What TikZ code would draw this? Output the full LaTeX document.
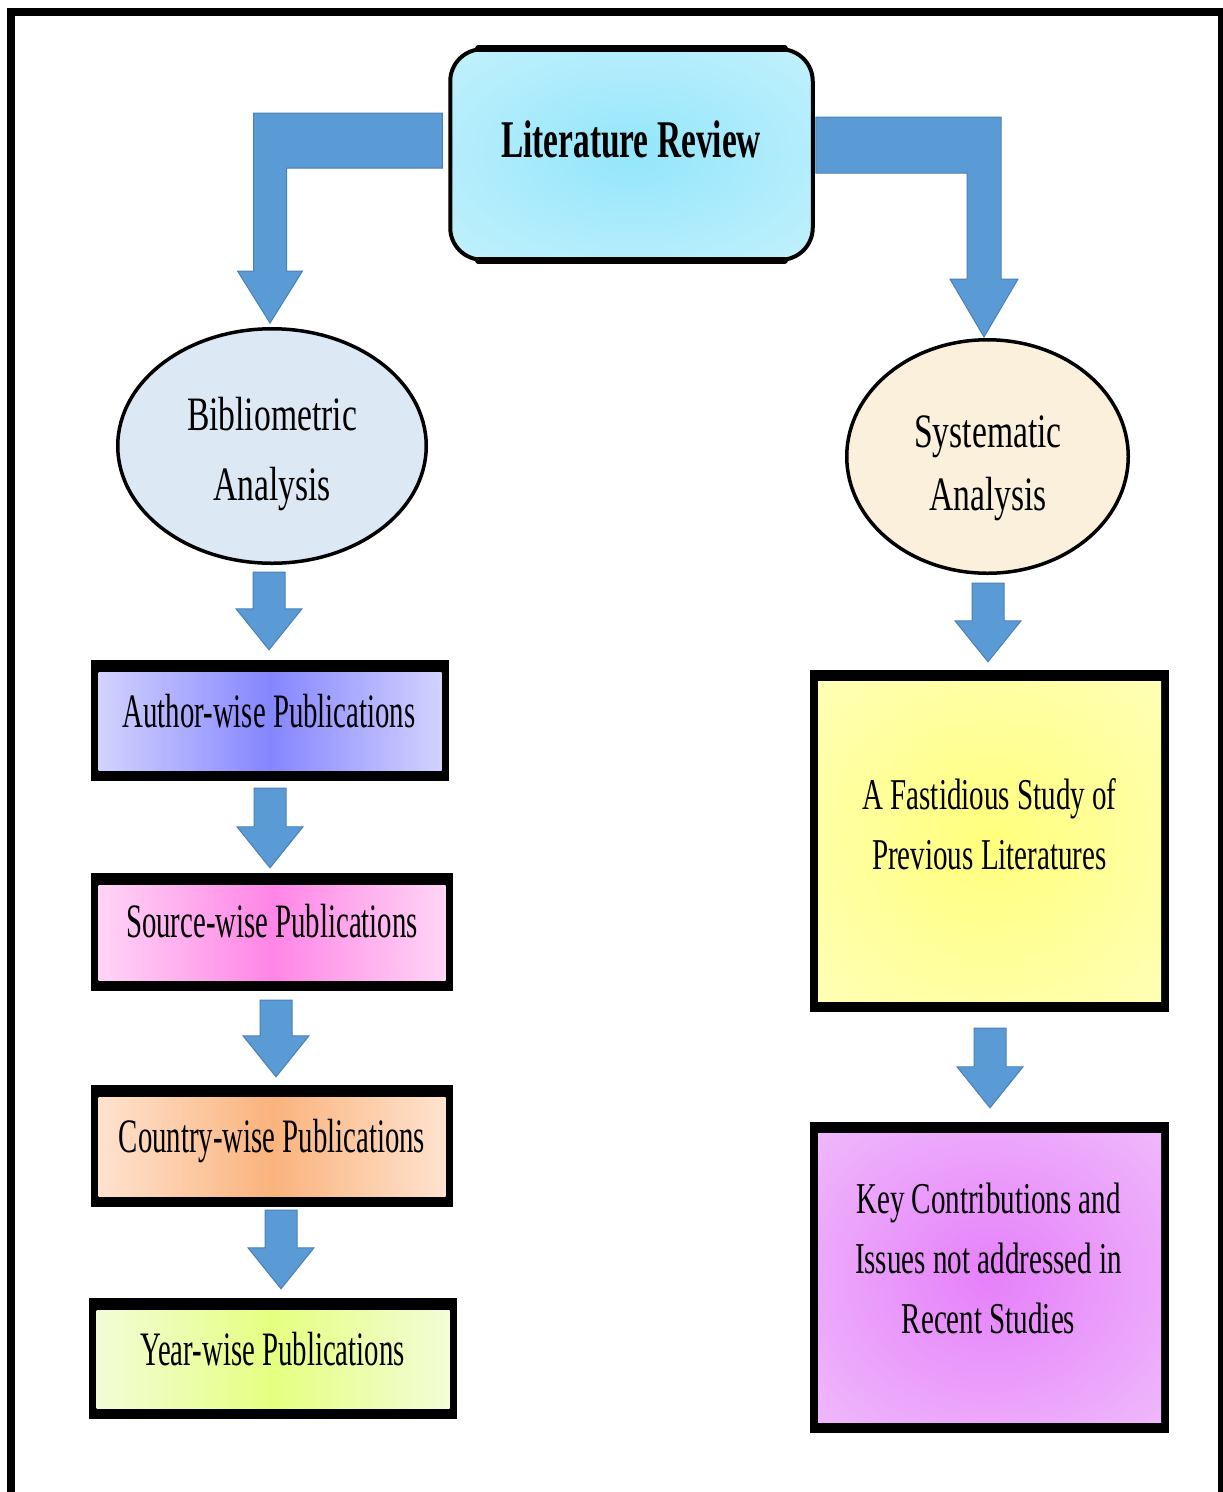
\documentclass[tikz,border=0pt]{standalone}
\usepackage{fontspec}
\usetikzlibrary{shapes.geometric,calc}

% condensed serif faces used for the labels
\newfontfamily\titlefont[FakeStretch=0.63]{Liberation Serif}
\newfontfamily\pubfont[FakeStretch=0.60]{Liberation Serif}
\newfontfamily\ellfont[FakeStretch=0.70]{Liberation Serif}
\newfontfamily\boxfont[FakeStretch=0.66]{Liberation Serif}

\definecolor{arrowblue}{HTML}{5B9BD5}
\definecolor{arrowedge}{HTML}{4A80B8}
\definecolor{titlein}{HTML}{93E6FB}
\definecolor{titleout}{HTML}{D6F5FD}
\definecolor{authorin}{HTML}{8585FF}
\definecolor{authorout}{HTML}{D6D6FF}
\definecolor{sourcein}{HTML}{FF85E6}
\definecolor{sourceout}{HTML}{FFD8F6}
\definecolor{countryin}{HTML}{FAB37C}
\definecolor{countryout}{HTML}{FFE4D2}
\definecolor{yearin}{HTML}{E5FF80}
\definecolor{yearout}{HTML}{F3FCDA}
\definecolor{fastin}{HTML}{FFFF7C}
\definecolor{fastout}{HTML}{FFFFD2}
\definecolor{keyin}{HTML}{E580FA}
\definecolor{keyout}{HTML}{F4D4FC}
\definecolor{bibliofill}{HTML}{DCE8F4}
\definecolor{sysfill}{HTML}{FBF0DC}

% soft radial fill whose colours are set just before use
\colorlet{radin}{white}
\colorlet{radout}{white}
\pgfdeclareradialshading[radin,radout]{softrad}{\pgfpoint{0bp}{0bp}}%
  {color(0bp)=(radin); color(50bp)=(radout); color(72bp)=(radout)}

\tikzset{
  pubbox/.style 2 args={rectangle, fill=black, inner sep=0pt,
    path picture={\shade[left color=#2, right color=#2, middle color=#1]
      ([xshift=7.5pt,yshift=-12pt]path picture bounding box.north west) rectangle
      ([xshift=-7.5pt,yshift=11pt]path picture bounding box.south east);}},
  bigbox/.style 2 args={rectangle, fill=black, inner sep=0pt,
    path picture={\colorlet{radin}{#1}\colorlet{radout}{#2}%
      \shade[shading=softrad]
      ([xshift=8pt,yshift=-11pt]path picture bounding box.north west) rectangle
      ([xshift=-8pt,yshift=11pt]path picture bounding box.south east);}},
  titlebox/.style={rectangle, rounded corners=32, draw=black, line width=4,
    inner sep=0pt,
    path picture={\colorlet{radin}{titlein}\colorlet{radout}{titleout}%
      \shade[shading=softrad] (path picture bounding box.south west) rectangle
      (path picture bounding box.north east);}},
  titleedge/.style={line width=6.5, line cap=round},
  oval/.style={ellipse, draw=black, line width=3.5, inner sep=0pt},
  pubtext/.style={inner sep=0pt, anchor=base,
    font=\pubfont\fontsize{48}{58}\selectfont},
  elltext/.style={inner sep=0pt, anchor=north, align=center,
    font=\ellfont\fontsize{48}{#1}\selectfont},
  boxtext/.style={inner sep=0pt, anchor=north, align=center,
    font=\boxfont\fontsize{44}{60}\selectfont},
  blockarr/.style={fill=arrowblue, draw=arrowedge, line width=1, line join=miter,
    to path={let \p1=(\tikztostart), \p2=(\tikztotarget) in
      (\x1-16pt,\y1) -- (\x1+16pt,\y1) -- (\x1+16pt,\y2+41pt)
      -- (\x1+33pt,\y2+41pt) -- (\x1,\y2) -- (\x1-33pt,\y2+41pt)
      -- (\x1-16pt,\y2+41pt) -- cycle}},
  elbowleft/.style={fill=arrowblue, draw=arrowedge, line width=1, line join=miter,
    to path={let \p1=(\tikztostart), \p2=(\tikztotarget) in
      (\x1,\y1+27.5pt) -- (\x2-16.5pt,\y1+27.5pt) -- (\x2-16.5pt,\y2+52pt)
      -- (\x2-32.5pt,\y2+52pt) -- (\x2,\y2) -- (\x2+32.5pt,\y2+52pt)
      -- (\x2+16.5pt,\y2+52pt) -- (\x2+16.5pt,\y1-27.5pt) -- (\x1,\y1-27.5pt) -- cycle}},
  elbowright/.style={fill=arrowblue, draw=arrowedge, line width=1, line join=miter,
    to path={let \p1=(\tikztostart), \p2=(\tikztotarget) in
      (\x1,\y1+28pt) -- (\x2+17pt,\y1+28pt) -- (\x2+17pt,\y2+58pt)
      -- (\x2+34pt,\y2+58pt) -- (\x2,\y2) -- (\x2-34pt,\y2+58pt)
      -- (\x2-17pt,\y2+58pt) -- (\x2-17pt,\y1-28pt) -- (\x1,\y1-28pt) -- cycle}},
}

\begin{document}
\begin{tikzpicture}[x=1pt, y=-1pt]
\useasboundingbox (0,0) rectangle (1223,1492);
\fill[white] (0,0) rectangle (1223,1492);

% outer frame, open at the bottom
\begin{scope}
  \clip (0,0) rectangle (1223,1492);
  \draw[line width=8, line join=miter] (11,1500) -- (11,12) -- (1222,12) -- (1222,1500);
\end{scope}

% top node, with heavier top and bottom edges
\node[titlebox, minimum width=362.5, minimum height=210.5] (title) at (631.5,154.5) {};
\draw[titleedge] ([xshift=30pt,yshift=-1.25pt]title.north west) -- ([xshift=-30pt,yshift=-1.25pt]title.north east);
\draw[titleedge] ([xshift=30pt,yshift=1.25pt]title.south west) -- ([xshift=-30pt,yshift=1.25pt]title.south east);
\node[inner sep=0pt, anchor=base, font=\titlefont\bfseries\fontsize{53}{60}\selectfont]
  (title-t) at (631,157) {Literature Review};

% the two branches
\node[oval, fill=bibliofill, minimum width=308.5, minimum height=234.5] (biblio) at (272,446) {};
\node[elltext=70] (biblio-t) at (272,397.2) {Bibliometric\\Analysis};

\node[oval, fill=sysfill, minimum width=281.5, minimum height=233.5] (sys) at (987.5,456.5) {};
\node[elltext=63.5] (sys-t) at (988,415.2) {Systematic\\Analysis};

% bibliometric column
\node[pubbox={authorin}{authorout}, minimum width=358, minimum height=121] (author) at (270,720.5) {};
\node[pubtext] (author-t) at (269,727) {Author-wise Publications};

\node[pubbox={sourcein}{sourceout}, minimum width=362, minimum height=118] (source) at (272,932) {};
\node[pubtext] (source-t) at (272,937) {Source-wise Publications};

\node[pubbox={countryin}{countryout}, minimum width=362, minimum height=122] (country) at (272,1146) {};
\node[pubtext] (country-t) at (272,1152) {Country-wise Publications};

\node[pubbox={yearin}{yearout}, minimum width=368, minimum height=121] (year) at (273,1358.5) {};
\node[pubtext] (year-t) at (272.5,1365) {Year-wise Publications};

% systematic column
\node[bigbox={fastin}{fastout}, minimum width=359, minimum height=342] (fast) at (989.5,841) {};
\node[boxtext] (fast-t) at (989.5,778) {A Fastidious Study of\\Previous Literatures};

\node[bigbox={keyin}{keyout}, minimum width=359, minimum height=311] (key) at (989.5,1277.5) {};
\node[boxtext] (key-t) at (988.5,1183) {Key Contributions and\\Issues not addressed in\\Recent Studies};

% bent arrows out of the top node
\draw[elbowleft] ($(title.west)+(-6,-14)$) to ($(biblio.north)+(-2,-4)$);
\draw[elbowright] ($(title.east)+(1,-9.5)$) to ($(sys.north)+(-3.5,-1)$);

% straight block arrows
\draw[blockarr] ($(biblio.south)+(-3,7)$) to ($(author.north)+(0,-10)$);
\draw[blockarr] ($(author.south)+(0,7)$) to ($(source.north)+(0,-5)$);
\draw[blockarr] ($(source.south)+(4,9)$) to ($(country.north)+(0,-8)$);
\draw[blockarr] ($(country.south)+(9,3)$) to ($(year.north)+(0,-9)$);
\draw[blockarr] ($(sys.south)+(0.5,8)$) to ($(fast.north)+(0,-8)$);
\draw[blockarr] ($(fast.south)+(0.5,16)$) to ($(key.north)+(0,-14)$);
\end{tikzpicture}
\end{document}
